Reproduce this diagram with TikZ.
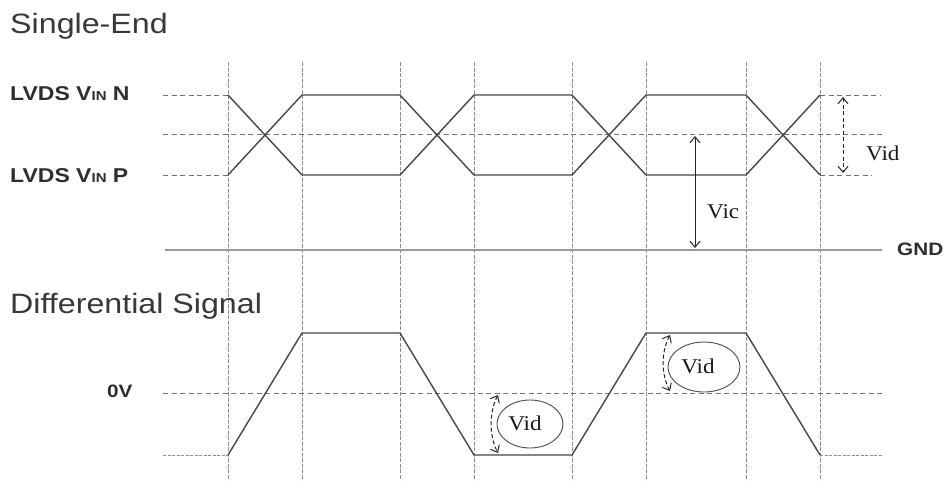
\documentclass[tikz,border=0pt]{standalone}
\usepackage{fontspec}
\setmainfont{Liberation Sans}
\newfontfamily\vfont{Liberation Serif}
\usetikzlibrary{arrows.meta,shapes.geometric}
\begin{document}
\begin{tikzpicture}[x=1pt,y=-1pt,
  sig/.style={draw=black!72, line width=1.4pt, line join=round},
  refdash/.style={draw=black!55, dash pattern=on 5pt off 3.5pt, line width=0.9pt},
  lowdash/.style={draw=black!45, dash pattern=on 3pt off 1.5pt, line width=0.9pt},
  gridline/.style={draw=black!45, dash pattern=on 4pt off 1.5pt, line width=0.7pt},
  gndline/.style={draw=black!40, line width=1.8pt},
  dimarrow/.style={{Straight Barb[length=6pt,width=10pt]}-{Straight Barb[length=6pt,width=10pt]}, draw=black!85, line width=1pt},
  dimdash/.style={dimarrow, dash pattern=on 4pt off 2.5pt},
  title/.style={font=\fontsize{28}{30}\selectfont, text=black!78, anchor=base west, inner sep=0pt, xscale=1.15},
  lvds/.style={font=\fontsize{20}{22}\selectfont\bfseries, text=black!82, anchor=base west, inner sep=0pt, xscale=1.15},
  vlabel/.style={font=\vfont\fontsize{21}{23}\selectfont, text=black!90, inner sep=0pt, xscale=1.1},
  oval/.style={draw=black!70, line width=0.9pt, ellipse, inner sep=0pt}
]
\useasboundingbox (0,0) rectangle (946,480);
\fill[white] (0,0) rectangle (946,480);

% vertical grid lines
\foreach \x/\n in {228/a,302/b,400/c,474/d,572/e,646/f,746/g,820/h} {
  \coordinate (top\n) at (\x,62);
  \coordinate (bot\n) at (\x,480);
  \draw[gridline] (top\n) -- (bot\n);
}

% labels
\node[title] (se) at (10,33) {Single-End};
\node[title] (ds) at (10,313) {Differential Signal};
\node[lvds] (ln) at (10,100) {LVDS V{\fontsize{13}{13}\selectfont IN} N};
\node[lvds] (lp) at (10,182) {LVDS V{\fontsize{13}{13}\selectfont IN} P};
\node[lvds, font=\fontsize{18}{20}\selectfont\bfseries] (zv) at (107,397) {0V};
\node[lvds, font=\fontsize{18}{20}\selectfont\bfseries] (gnd) at (897,255) {GND};

% reference levels, single-ended
\coordinate (nL) at (163,95);  \coordinate (nR) at (880,95);
\coordinate (mL) at (163,134); \coordinate (mR) at (883,134);
\coordinate (pL) at (163,175); \coordinate (pR) at (872,175);
\draw[refdash] (nL) -- (228,95);
\draw[refdash] (820,95) -- (nR);
\draw[refdash] (pL) -- (228,175);
\draw[refdash] (820,175) -- (pR);
\draw[refdash] (mL) -- (mR);
\coordinate (gL) at (165,250); \coordinate (gR) at (882,250);
\draw[gndline] (gL) -- (gR);

% single-ended traces
\draw[sig] (228,95) -- (302,175) -- (400,175) -- (474,95) -- (572,95) -- (646,175) -- (746,175) -- (820,95);
\draw[sig] (228,175) -- (302,95) -- (400,95) -- (474,175) -- (572,175) -- (646,95) -- (746,95) -- (820,175);

% Vid (single ended) and Vic
\coordinate (vidT) at (843,97); \coordinate (vidB) at (843,173);
\draw[dimdash] (vidT) -- (vidB);
\node[vlabel, anchor=base west] (vidlab) at (866,160) {Vid};
\coordinate (vicT) at (695,136); \coordinate (vicB) at (695,248);
\draw[dimarrow] (vicT) -- (vicB);
\node[vlabel, anchor=base west] (viclab) at (707,218) {Vic};

% differential
\coordinate (zL) at (163,393); \coordinate (zR) at (883,393);
\draw[refdash] (zL) -- (zR);
\draw[lowdash] (163,455) -- (228,455);
\draw[lowdash] (820,455) -- (883,455);
\draw[sig] (228,455) -- (302,333) -- (400,333) -- (474,455) -- (572,455) -- (646,333) -- (746,333) -- (820,455);

% ellipse annotations
\node[oval, minimum width=66pt, minimum height=48pt] (e1) at (530,424) {};
\node[vlabel] (e1t) at (525,423) {Vid};
\draw[dimdash] (498,395) .. controls (489,412) and (489,436) .. (498,453);
\node[oval, minimum width=72pt, minimum height=50pt] (e2) at (704,367) {};
\node[vlabel] (e2t) at (698,366) {Vid};
\draw[dimdash] (670,335) .. controls (661,352) and (661,374) .. (670,391);
\end{tikzpicture}
\end{document}
